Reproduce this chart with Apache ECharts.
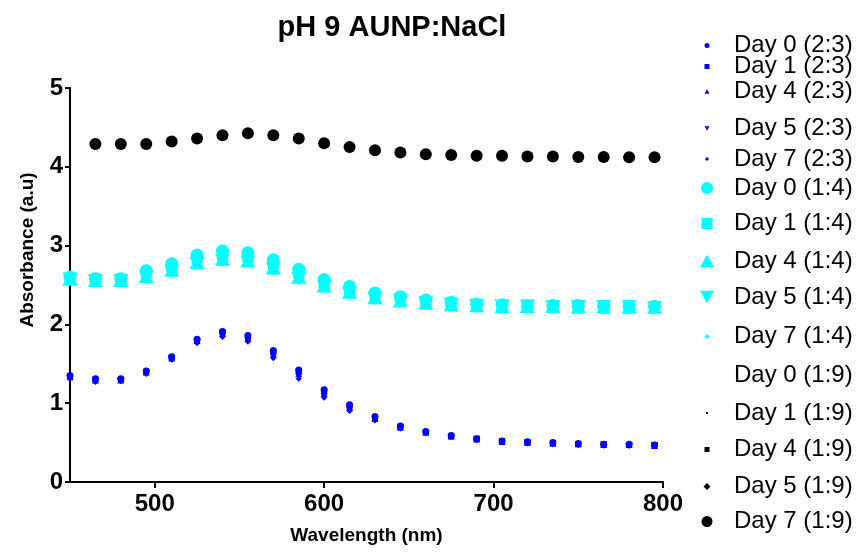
<!DOCTYPE html>
<html><head><meta charset="utf-8">
<script src="https://cdn.jsdelivr.net/npm/echarts@6/dist/echarts.min.js"></script>
<style>html,body{margin:0;padding:0;background:#fff}#c{width:858px;height:552px}</style>
</head><body><div id="c"></div>
<script>
// ---------- DATA ----------
const wavelengths = [450,465,480,495,510,525,540,555,570,585,600,615,630,645,660,675,690,705,720,735,750,765,780,795];
const xTicks = [500,600,700,800];
const yTicks = [0,1,2,3,4,5];
const titleText = 'pH 9 AUNP:NaCl';
const xName = 'Wavelength (nm)';
const yName = 'Absorbance (a.u)';
const seriesNames = ['Day 0 (2:3)','Day 1 (2:3)','Day 4 (2:3)','Day 5 (2:3)','Day 7 (2:3)',
  'Day 0 (1:4)','Day 1 (1:4)','Day 4 (1:4)','Day 5 (1:4)','Day 7 (1:4)',
  'Day 0 (1:9)','Day 1 (1:9)','Day 4 (1:9)','Day 5 (1:9)','Day 7 (1:9)'];

// 2:3 (blue)
const d0_23 = [1.35,1.31,1.31,1.41,1.59,1.81,1.91,1.86,1.67,1.42,1.17,0.98,0.83,0.71,0.64,0.59,0.55,0.52,0.51,0.50,0.49,0.48,0.48,0.47];
const d1_23 = [1.34,1.30,1.30,1.40,1.58,1.80,1.90,1.84,1.65,1.40,1.15,0.96,0.82,0.70,0.63,0.58,0.55,0.52,0.50,0.49,0.48,0.48,0.47,0.47];
const d4_23 = [1.33,1.29,1.29,1.39,1.57,1.79,1.88,1.82,1.62,1.37,1.12,0.94,0.80,0.69,0.63,0.58,0.54,0.51,0.50,0.49,0.48,0.47,0.47,0.46];
const d5_23 = [1.32,1.28,1.29,1.38,1.56,1.77,1.86,1.80,1.60,1.34,1.09,0.92,0.79,0.68,0.62,0.57,0.54,0.51,0.50,0.48,0.47,0.47,0.46,0.46];
const d7_23 = [1.31,1.27,1.28,1.37,1.55,1.76,1.84,1.78,1.57,1.31,1.07,0.90,0.78,0.68,0.62,0.57,0.53,0.50,0.49,0.48,0.47,0.46,0.46,0.45];
// 1:4 (cyan)
const d0_14 = [2.60,2.58,2.58,2.68,2.77,2.88,2.93,2.91,2.82,2.70,2.57,2.48,2.40,2.35,2.31,2.28,2.26,2.25,2.24,2.24,2.24,2.23,2.23,2.23];
const d1_14 = [2.59,2.57,2.57,2.65,2.73,2.84,2.88,2.86,2.77,2.65,2.53,2.45,2.37,2.33,2.29,2.27,2.25,2.24,2.24,2.23,2.23,2.23,2.22,2.22];
const d4_14 = [2.58,2.56,2.56,2.61,2.69,2.79,2.83,2.81,2.72,2.60,2.49,2.41,2.34,2.30,2.27,2.25,2.24,2.23,2.23,2.23,2.22,2.22,2.22,2.22];
const d5_14 = [2.57,2.55,2.55,2.60,2.67,2.77,2.81,2.79,2.70,2.58,2.47,2.39,2.33,2.30,2.27,2.25,2.24,2.23,2.23,2.22,2.22,2.22,2.22,2.21];
const d7_14 = [2.57,2.55,2.55,2.60,2.67,2.77,2.81,2.79,2.70,2.58,2.47,2.39,2.33,2.29,2.26,2.24,2.23,2.23,2.22,2.22,2.22,2.22,2.21,2.21];
// 1:9 (black)
const d0_19 = [null,4.29,4.29,4.29,4.32,4.36,4.40,4.42,4.40,4.36,4.30,4.25,4.21,4.18,4.16,4.15,4.14,4.14,4.13,4.13,4.12,4.12,4.12,4.12];
const d1_19 = [null,4.29,4.29,4.29,4.32,4.36,4.40,4.42,4.40,4.36,4.30,4.25,4.21,4.18,4.16,4.15,4.14,4.14,4.13,4.13,4.12,4.12,4.12,4.12];
const d4_19 = [null,4.29,4.29,4.29,4.32,4.36,4.40,4.42,4.40,4.36,4.30,4.25,4.21,4.18,4.16,4.15,4.14,4.14,4.13,4.13,4.12,4.12,4.12,4.12];
const d5_19 = [null,4.29,4.29,4.29,4.32,4.36,4.40,4.42,4.40,4.36,4.30,4.25,4.21,4.18,4.16,4.15,4.14,4.14,4.13,4.13,4.12,4.12,4.12,4.12];
const d7_19 = [null,4.29,4.29,4.29,4.32,4.36,4.40,4.425,4.40,4.36,4.30,4.25,4.21,4.18,4.16,4.15,4.14,4.14,4.13,4.13,4.125,4.125,4.12,4.12];

const seriesValues = [d0_23,d1_23,d4_23,d5_23,d7_23,d0_14,d1_14,d4_14,d5_14,d7_14,d0_19,d1_19,d4_19,d5_19,d7_19];

// ---------- STYLE ----------
const FONT = 'Arial, "Liberation Sans", Helvetica, sans-serif';
const BLUE = '#0000ff', CYAN = '#00ffff', BLACK = '#000000';
const DOWN = 'path://M0,0L10,0L5,9Z';
const UP = 'path://M5,0L10,9L0,9Z';
const styles = [
  {c:BLUE, s:'circle', size:7, leg:5},
  {c:BLUE, s:'rect', size:6, leg:5},
  {c:BLUE, s:UP, size:7, leg:5},
  {c:BLUE, s:DOWN, size:7, leg:5},
  {c:BLUE, s:'diamond', size:6, leg:4},
  {c:CYAN, s:'circle', size:13, leg:12},
  {c:CYAN, s:'rect', size:11, leg:11},
  {c:CYAN, s:UP, size:15, leg:14},
  {c:CYAN, s:DOWN, size:15, leg:14},
  {c:CYAN, s:'diamond', size:6, leg:5},
  {c:BLACK, s:'circle', size:0, leg:6, hide:true},
  {c:BLACK, s:'rect', size:2, leg:2},
  {c:BLACK, s:'rect', size:6, leg:5},
  {c:BLACK, s:'diamond', size:8, leg:7},
  {c:BLACK, s:'circle', size:12, leg:11}
];
// legend row centres (px)
const legendY = [36,57,82,119,149,182,217,256,292,327,366,402,440,478,515];
const LEG_ICON_X = 707, LEG_TEXT_X = 734;
// draw order: cyan circles on top
const order = [0,1,2,3,4,9,6,7,8,5,10,11,12,13,14];

const series = order.map(i => ({
  name: seriesNames[i],
  type: 'scatter',
  symbol: styles[i].s,
  symbolSize: styles[i].size,
  symbolKeepAspect: true,
  itemStyle: {color: styles[i].c, opacity: styles[i].hide ? 0 : 1},
  emphasis: {disabled: true},
  clip: false,
  data: wavelengths.map((w, k) => [w, seriesValues[i][k]]).filter(p => p[1] !== null)
}));

const legends = seriesNames.map((n, i) => {
  const h = styles[i].leg;
  return {
    data: [{name: n, icon: styles[i].s, itemStyle: styles[i].hide ? {opacity: 0} : {color: styles[i].c, opacity: 1}}],
    left: LEG_ICON_X - h / 2 - 5,
    top: legendY[i] - h / 2 - 5,
    padding: 5,
    itemWidth: h,
    itemHeight: h,
    symbolKeepAspect: true,
    selectedMode: false,
    textStyle: {fontSize: 24, fontFamily: FONT, color: '#000',
      padding: [0, 0, 0, Math.max(0, LEG_TEXT_X - (LEG_ICON_X + h / 2 + 5))]}
  };
});

const chart = echarts.init(document.getElementById('c'), null, {renderer: 'canvas'});
chart.setOption({
  animation: false,
  backgroundColor: '#fff',
  title: {text: titleText, left: 387, textAlign: 'center', top: 8,
    textStyle: {fontSize: 29, fontWeight: 'bold', fontFamily: FONT, color: '#000'}},
  legend: legends,
  grid: {left: 70, right: 195, top: 88, bottom: 70, containLabel: false},
  xAxis: {
    type: 'value', min: 450, max: 800,
    name: xName, nameLocation: 'middle', nameGap: 44,
    nameTextStyle: {fontSize: 19, fontWeight: 'bold', fontFamily: FONT, color: '#000'},
    axisLine: {show: true, onZero: false, lineStyle: {color: '#000', width: 2}},
    axisTick: {show: true, customValues: xTicks, length: 6, lineStyle: {color: '#000', width: 2}},
    axisLabel: {customValues: xTicks, fontSize: 24, fontWeight: 'bold', fontFamily: FONT, color: '#000', margin: 10},
    splitLine: {show: false}
  },
  yAxis: {
    type: 'value', min: 0, max: 5, interval: 1,
    axisLine: {show: true, onZero: false, lineStyle: {color: '#000', width: 2}},
    axisTick: {show: true, length: 5, lineStyle: {color: '#000', width: 2}},
    axisLabel: {fontSize: 24, fontWeight: 'bold', fontFamily: FONT, color: '#000', margin: 7},
    splitLine: {show: false}
  },
  graphic: [{
    type: 'text', x: 28, y: 250, rotation: Math.PI / 2,
    style: {text: yName, fontSize: 19, fontWeight: 'bold', fontFamily: FONT, fill: '#000',
      textAlign: 'center', textVerticalAlign: 'middle'}
  }],
  series: series
});
</script></body></html>
